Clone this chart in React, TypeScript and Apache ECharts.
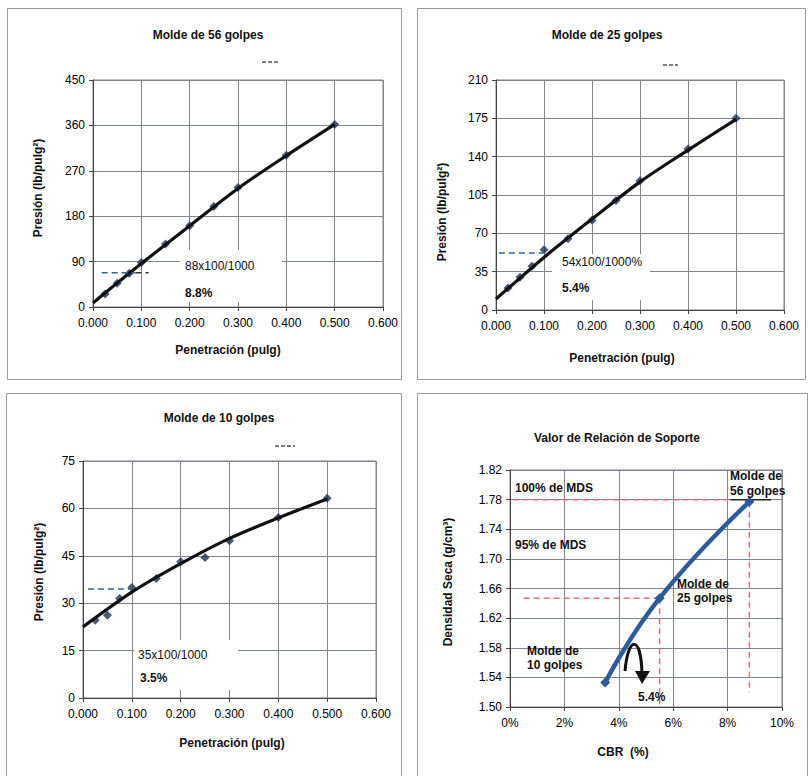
import React, { useEffect, useRef } from "react";
import * as echarts from "echarts";

// ---------- data ----------
const penetration = [0.025, 0.05, 0.075, 0.1, 0.15, 0.2, 0.25, 0.3, 0.4, 0.5];
const pressure56 = [26, 47, 67, 88, 125, 161, 199, 237, 301, 362];
const pressure25 = [20, 30, 40, 55, 65, 82, 100, 118, 147, 175];
const pressure10 = [24.6, 26.2, 31.5, 35, 37.8, 43.1, 44.5, 49.8, 57.1, 63.2];
const trendX = [0, 0.1, 0.2, 0.3, 0.4, 0.5];
const trend56 = [8, 86, 161, 235, 300, 362];
const trend25 = [10, 48, 83, 117, 146, 174];
const trend10 = [22.5, 33.5, 42.5, 50.5, 57, 63];
const readLine56 = { x: [0.018, 0.088], y: 68 };
const readLine25 = { x: [0.006, 0.098], y: 52 };
const readLine10 = { x: [0.01, 0.1], y: 34.5 };
const cbrPct = [3.5, 5.5, 8.8];
const dryDensity = [1.533, 1.647, 1.777];
const densityBase = 1.5;
const mds100 = 1.78;
const xTicksPen = [0, 0.6, 0.1];
const yTicks56 = [0, 450, 90];
const yTicks25 = [0, 210, 35];
const yTicks10 = [0, 75, 15];
const yTicksDensity = [1.5, 1.82, 0.04];
const xTicksCbr = [0, 10, 2];

const FONT = '"Liberation Sans", Arial, sans-serif';

const zip = (xs: number[], ys: number[]) => xs.map((x, i) => [x, ys[i]]);

function App() {
  const ref = useRef<HTMLDivElement>(null);
  useEffect(() => {
    if (!ref.current) return;
    const chart = echarts.init(ref.current, undefined, { renderer: "svg" });

    const grids = [
      { left: 93, top: 80, width: 290, height: 227 },
      { left: 496, top: 80, width: 288, height: 230 },
      { left: 83, top: 461, width: 293, height: 237 },
      { left: 510, top: 470, width: 272, height: 237 },
    ].map((g) => ({ ...g, show: true, borderColor: "#7a7f8a", borderWidth: 1, backgroundColor: "transparent" }));

    const axisCommon = {
      axisLine: { show: true, onZero: false, lineStyle: { color: "#444", width: 1 } },
      axisTick: { show: true, inside: false, length: 4, lineStyle: { color: "#444" } },
      splitLine: { show: true, lineStyle: { color: "#80858f", width: 1 } },
      axisLabel: { color: "#000", fontSize: 12, fontFamily: FONT },
    };

    const penX = (gi: number) => ({
      type: "value", gridIndex: gi, min: xTicksPen[0], max: xTicksPen[1], interval: xTicksPen[2],
      ...axisCommon,
      axisLabel: { ...axisCommon.axisLabel, margin: 10, formatter: (v: number) => v.toFixed(3) },
    });
    const presY = (gi: number, t: number[]) => ({
      type: "value", gridIndex: gi, min: t[0], max: t[1], interval: t[2],
      ...axisCommon,
      axisLabel: { ...axisCommon.axisLabel, margin: 8 },
    });

    const xAxis = [
      penX(0), penX(1), penX(2),
      {
        type: "value", gridIndex: 3, min: xTicksCbr[0], max: xTicksCbr[1], interval: xTicksCbr[2],
        ...axisCommon,
        axisLabel: { ...axisCommon.axisLabel, margin: 10, formatter: (v: number) => `${v}%` },
      },
    ];
    const yAxis = [
      presY(0, yTicks56), presY(1, yTicks25), presY(2, yTicks10),
      {
        type: "value", gridIndex: 3, min: 0,
        max: +(yTicksDensity[1] - yTicksDensity[0]).toFixed(2), interval: yTicksDensity[2],
        ...axisCommon,
        axisLabel: { ...axisCommon.axisLabel, margin: 8, formatter: (v: number) => (v + densityBase).toFixed(2) },
      },
    ];

    const pointSeries = (gi: number, ys: number[]) => ({
      type: "scatter", xAxisIndex: gi, yAxisIndex: gi, data: zip(penetration, ys),
      symbol: "diamond", symbolSize: 9, itemStyle: { color: "#1e3050" }, z: 3,
    });
    const trendSeries = (gi: number, ys: number[]) => ({
      type: "line", xAxisIndex: gi, yAxisIndex: gi, data: zip(trendX, ys),
      smooth: 0.3, symbol: "none", lineStyle: { color: "#111", width: 3.2 }, z: 4,
    });
    const readSeries = (gi: number, r: { x: number[]; y: number }) => ({
      type: "line", xAxisIndex: gi, yAxisIndex: gi, data: r.x.map((x) => [x, r.y]),
      symbol: "none", lineStyle: { color: "#2f62a8", width: 1.5, type: [6, 4] }, z: 5,
    });
    const d = (v: number) => v - densityBase;
    const redDash = { color: "#e2707c", width: 1.5, type: [6, 4] };
    const redSeries = (pts: number[][]) => ({
      type: "line", xAxisIndex: 3, yAxisIndex: 3, data: pts.map((p) => [p[0], d(p[1])]),
      symbol: "none", lineStyle: redDash, z: 3,
    });

    const series: any[] = [
      readSeries(0, readLine56),
      {
        type: "line", xAxisIndex: 0, yAxisIndex: 0,
        data: [[readLine56.x[1], readLine56.y], [0.115, readLine56.y]],
        symbol: "none", lineStyle: { color: "#333", width: 1.5, type: [6, 4] }, z: 5,
      },
      pointSeries(0, pressure56), trendSeries(0, trend56),
      readSeries(1, readLine25), pointSeries(1, pressure25), trendSeries(1, trend25),
      readSeries(2, readLine10), pointSeries(2, pressure10), trendSeries(2, trend10),
      redSeries([[0.1, mds100], [8.1, mds100]]),
      {
        type: "line", xAxisIndex: 3, yAxisIndex: 3,
        data: [[8.1, d(mds100)], [9.6, d(mds100)]],
        symbol: "none", lineStyle: { color: "#222", width: 1.5 }, z: 3,
      },
      redSeries([[0.5, dryDensity[1]], [cbrPct[1], dryDensity[1]]]),
      redSeries([[cbrPct[1], dryDensity[1]], [cbrPct[1], 1.5]]),
      redSeries([[cbrPct[2], dryDensity[2]], [cbrPct[2], 1.52]]),
      {
        type: "line", xAxisIndex: 3, yAxisIndex: 3,
        data: cbrPct.map((x, i) => [x, d(dryDensity[i])]),
        smooth: 0.5, symbol: "diamond", symbolSize: 10, showSymbol: true,
        itemStyle: { color: "#2d5c9c" }, lineStyle: { color: "#2d5c9c", width: 4.5 }, z: 4,
      },
    ];

    const txt = (text: string, x: number, y: number, opts: any = {}) => ({
      type: "text", x, y, rotation: opts.rotation || 0, z: opts.z ?? 10,
      style: {
        text, x: 0, y: 0, fill: opts.fill || "#111",
        font: `${opts.bold ? "bold " : ""}${opts.size || 12}px ${FONT}`,
        align: opts.align || "left", verticalAlign: "middle",
        textAlign: opts.align || "left", textVerticalAlign: "middle",
      },
    });
    const box = (x: number, y: number, w: number, h: number, stroke = "none", fill = "#fff", z = 1) => ({
      type: "rect", z, shape: { x, y, width: w, height: h }, style: { fill, stroke, lineWidth: 1 },
    });
    const dash = (x1: number, x2: number, y: number) => ({
      type: "line", z: 10, shape: { x1, y1: y, x2, y2: y }, style: { stroke: "#555", lineWidth: 1.5, lineDash: [4, 2] },
    });

    const graphic = [
      box(7.5, 8.5, 394, 371, "#9a9a9a", "none", 0),
      box(417.5, 8.5, 388, 371, "#9a9a9a", "none", 0),
      box(6.5, 393.5, 395, 390, "#9a9a9a", "none", 0),
      box(417.5, 393.5, 390, 390, "#9a9a9a", "none", 0),
      box(180, 250, 102, 52),
      box(552, 254, 98, 46),
      box(134, 640, 104, 50),
      txt("Molde de 56 golpes", 208, 35, { bold: true, align: "center" }),
      txt("Molde de 25 golpes", 607, 35, { bold: true, align: "center" }),
      txt("Molde de 10 golpes", 219, 418, { bold: true, align: "center" }),
      txt("Valor de Relación de Soporte", 617, 438, { bold: true, align: "center" }),
      dash(262, 280, 62), dash(663, 678, 65), dash(275, 295, 446),
      txt("Penetración (pulg)", 228, 350, { bold: true, align: "center" }),
      txt("Penetración (pulg)", 622, 358, { bold: true, align: "center" }),
      txt("Penetración (pulg)", 232, 743, { bold: true, align: "center" }),
      txt("CBR  (%)", 623, 752, { bold: true, align: "center" }),
      txt("Presión (lb/pulg²)", 38, 188, { bold: true, align: "center", rotation: Math.PI / 2 }),
      txt("Presión (lb/pulg²)", 442, 212, { bold: true, align: "center", rotation: Math.PI / 2 }),
      txt("Presión (lb/pulg²)", 39, 572, { bold: true, align: "center", rotation: Math.PI / 2 }),
      txt("Densidad Seca (g/cm³)", 448, 582, { bold: true, align: "center", rotation: Math.PI / 2 }),
      txt("88x100/1000", 185, 266),
      txt("8.8%", 185, 293, { bold: true }),
      txt("54x100/1000%", 562, 262),
      txt("5.4%", 562, 288, { bold: true }),
      txt("35x100/1000", 138, 655),
      txt("3.5%", 140, 678, { bold: true }),
      txt("100% de MDS", 515, 488, { bold: true }),
      txt("95% de MDS", 515, 545, { bold: true }),
      txt("Molde de", 730, 476, { bold: true }),
      txt("56 golpes", 730, 491, { bold: true }),
      txt("Molde de", 677, 584, { bold: true }),
      txt("25 golpes", 677, 598, { bold: true }),
      txt("Molde de", 527, 651, { bold: true }),
      txt("10 golpes", 527, 665, { bold: true }),
      txt("5.4%", 638, 697, { bold: true }),
      {
        type: "bezierCurve", z: 10,
        shape: { x1: 625, y1: 671, cpx1: 628, cpy1: 636, cpx2: 641, cpy2: 634, x2: 642, y2: 674 },
        style: { stroke: "#111", lineWidth: 3, fill: "none" },
      },
      {
        type: "polygon", z: 10,
        shape: { points: [[635, 671], [650, 671], [642, 684]] },
        style: { fill: "#111" },
      },
    ];

    chart.setOption({
      animation: false,
      backgroundColor: "#fff",
      grid: grids,
      xAxis,
      yAxis,
      series,
      graphic,
    } as any);
    return () => chart.dispose();
  }, []);
  return (
    <div
      ref={ref}
      style={{ position: "absolute", left: 0, top: 0, width: 809, height: 776 }}
    />
  );
}

export default App;
